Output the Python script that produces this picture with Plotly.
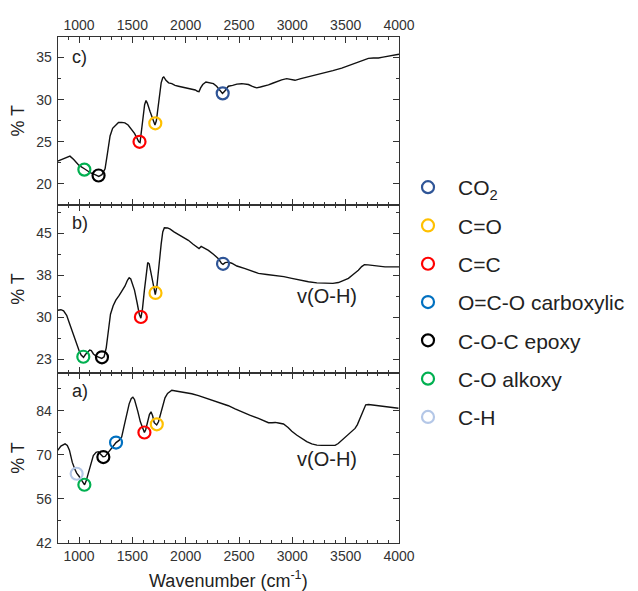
import plotly.graph_objects as go

# ---------------- data ----------------
wn_c = [800, 860, 915, 950, 1000, 1050, 1110, 1150, 1185, 1215, 1244, 1265, 1291, 1315, 1340, 1370, 1400, 1430,
        1460, 1494, 1520, 1541, 1560, 1572, 1585, 1600, 1615, 1628, 1640, 1666, 1690, 1712, 1725, 1750, 1770, 1785,
        1795, 1815, 1840, 1870, 1900, 1932, 1970, 2025, 2060, 2090, 2110, 2125, 2140, 2160, 2190, 2220, 2260, 2290,
        2320, 2345, 2365, 2400, 2440, 2480, 2526, 2560, 2588, 2620, 2666, 2700, 2740, 2776, 2815, 2854, 2900, 2947,
        2985, 3025, 3080, 3150, 3230, 3307, 3380, 3463, 3540, 3619, 3670, 3713, 3760, 3807, 3850, 3901, 3950, 4000]
t_c = [22.7, 23.0, 23.3, 22.9, 22.2, 21.8, 21.3, 21.1, 20.9, 21.1, 21.8, 23.5, 25.7, 26.6, 26.95, 27.3, 27.3, 27.25,
       27.0, 26.5, 26.0, 25.5, 25.0, 24.9, 26.2, 28.0, 29.4, 29.9, 29.6, 28.6, 27.8, 27.0, 27.5, 30.4, 32.0, 32.6,
       32.7, 32.3, 32.0, 31.9, 31.7, 31.6, 31.5, 31.35, 31.2, 31.15, 31.0, 30.95, 31.4, 31.8, 32.1, 32.0, 31.9, 31.6,
       31.1, 30.75, 31.0, 31.6, 31.7, 31.85, 31.9, 31.85, 31.8, 31.6, 31.4, 31.5, 31.6, 31.75, 31.95, 32.15, 32.35, 32.5,
       32.4, 32.3, 32.5, 32.7, 32.95, 33.2, 33.45, 33.75, 34.1, 34.5, 34.75, 34.9, 34.95, 34.95, 35.05, 35.2, 35.3, 35.4]

wn_b = [800, 830, 855, 884, 910, 931, 955, 978, 1000, 1020, 1042, 1060, 1080, 1100, 1115, 1135, 1160, 1190, 1213,
        1235, 1255, 1275, 1295, 1320, 1345, 1375, 1400, 1430, 1455, 1470, 1485, 1500, 1520, 1545, 1565, 1580, 1595,
        1613, 1630, 1644, 1658, 1675, 1695, 1715, 1730, 1750, 1770, 1785, 1800, 1830, 1855, 1890, 1932, 1970, 2025,
        2070, 2100, 2125, 2145, 2165, 2213, 2260, 2307, 2335, 2350, 2370, 2400, 2432, 2480, 2557, 2620, 2682, 2760,
        2839, 2920, 2995, 3070, 3151, 3230, 3307, 3380, 3432, 3480, 3526, 3570, 3619, 3650, 3676, 3710, 3744, 3800,
        3869, 3930, 4000]
t_b = [31.2, 31.3, 31.1, 30.3, 28.9, 27.7, 26.3, 25.0, 24.0, 23.2, 22.8, 23.3, 23.8, 24.1, 24.0, 23.4, 23.0, 22.8, 22.6,
       22.9, 24.5, 27.5, 30.5, 32.0, 33.0, 33.8, 34.5, 35.5, 36.6, 37.0, 36.8, 36.0, 34.8, 32.5, 30.5, 29.8, 31.5,
       34.8, 38.0, 39.7, 39.5, 38.0, 35.6, 34.0, 35.5, 39.6, 43.0, 45.2, 45.95, 45.9, 45.7, 45.2, 44.75, 44.3, 43.7,
       43.0, 42.6, 42.2, 42.6, 42.4, 41.9, 41.2, 40.4, 39.6, 39.4, 39.7, 39.8, 39.6, 39.1, 38.65, 38.2, 37.8, 37.6,
       37.45, 37.2, 36.9, 36.6, 36.3, 36.1, 36.0, 36.0, 36.15, 36.5, 36.9, 37.6, 38.35, 39.0, 39.35, 39.3, 39.2, 39.05,
       38.95, 38.95, 38.95]

wn_a = [800, 830, 869, 890, 910, 937, 960, 978, 1000, 1020, 1040, 1052, 1065, 1087, 1110, 1134, 1160, 1180, 1200,
        1225, 1245, 1270, 1291, 1320, 1347, 1375, 1400, 1425, 1447, 1470, 1490, 1505, 1520, 1535, 1551, 1575, 1600,
        1613, 1625, 1644, 1660, 1675, 1690, 1705, 1728, 1745, 1769, 1790, 1806, 1830, 1870, 1920, 1963, 2000, 2057,
        2120, 2182, 2260, 2338, 2400, 2463, 2526, 2600, 2682, 2740, 2776, 2810, 2839, 2870, 2917, 2960, 2995, 3040,
        3088, 3135, 3182, 3230, 3276, 3340, 3401, 3430, 3463, 3495, 3526, 3560, 3588, 3610, 3635, 3660, 3688, 3715,
        3744, 3800, 3869, 3930, 3995]
t_a = [71.4, 72.8, 73.5, 73.0, 71.5, 67.6, 65.5, 64.2, 63.2, 62.2, 60.8, 60.5, 61.5, 64.4, 67.5, 69.8, 70.8, 71.0, 70.3,
       69.4, 69.5, 70.6, 71.4, 72.6, 73.9, 74.6, 75.7, 79.5, 83.2, 86.2, 87.9, 88.3, 87.6, 85.9, 83.8, 80.5, 77.8,
       77.1, 78.0, 80.6, 82.8, 83.7, 82.4, 80.2, 79.5, 80.5, 83.6, 86.5, 88.1, 89.5, 90.5, 90.2, 90.0, 89.7, 89.4,
       88.8, 88.1, 87.3, 86.5, 85.6, 84.6, 83.6, 82.6, 81.6, 80.7, 80.2, 80.2, 80.3, 80.1, 79.8, 78.7, 77.5, 76.3,
       75.2, 74.2, 73.5, 73.1, 73.0, 72.9, 73.0, 73.6, 74.6, 75.8, 76.8, 77.7, 78.4, 79.6, 81.6, 84.0, 85.9, 86.0,
       85.9, 85.7, 85.4, 85.1, 84.8]

# band assignments (legend order)
band_names = ["CO<sub>2</sub>", "C=O", "C=C", "O=C-O carboxylic", "C-O-C epoxy", "C-O alkoxy", "C-H"]
band_colors = ["#2F5597", "#FFC000", "#FF0000", "#0070C0", "#000000", "#00B050", "#B4C7E7"]

# marked positions per panel
marks_c_band = [0, 1, 2, 4, 5]
marks_c_wn = [2347, 1715, 1567, 1183, 1050]
marks_c_t = [30.75, 27.2, 25.0, 21.0, 21.7]

marks_b_band = [0, 1, 2, 4, 5]
marks_b_wn = [2350, 1717, 1580, 1215, 1040]
marks_b_t = [39.5, 34.3, 30.0, 22.8, 22.9]

marks_a_band = [1, 2, 3, 4, 5, 6]
marks_a_wn = [1729, 1613, 1347, 1228, 1050, 978]
marks_a_t = [79.7, 77.1, 73.9, 69.3, 60.5, 64.0]

ticks_x = [1000, 1500, 2000, 2500, 3000, 3500, 4000]
ticks_c = [20, 25, 30, 35]
ticks_b = [22.5, 30, 37.5, 45]
ticks_b_text = ["23", "30", "38", "45"]
ticks_a = [42, 56, 70, 84]

# ---------------- figure ----------------
FONT = "Arial, Liberation Sans, sans-serif"
OFF = 8                      # page body margin
W, H = 638 - OFF, 591 - OFF
fig = go.Figure()

panels = [
    ("x3", "y3", wn_c, t_c, marks_c_band, marks_c_wn, marks_c_t),
    ("x2", "y2", wn_b, t_b, marks_b_band, marks_b_wn, marks_b_t),
    ("x", "y", wn_a, t_a, marks_a_band, marks_a_wn, marks_a_t),
]
for xa, ya, wx, ty, mb, mw, mt in panels:
    fig.add_trace(go.Scatter(x=wx, y=ty, xaxis=xa, yaxis=ya, mode="lines",
                             line=dict(color="#111111", width=1.4), showlegend=False, hoverinfo="skip"))
shown = set()
for xa, ya, wx, ty, mb, mw, mt in panels:
    for b, w, t in zip(mb, mw, mt):
        fig.add_trace(go.Scatter(
            x=[w], y=[t], xaxis=xa, yaxis=ya, mode="markers",
            marker=dict(symbol="circle-open", size=12, color=band_colors[b],
                        line=dict(width=2.2, color=band_colors[b])),
            name=band_names[b], legendgroup="g%d" % b, legendrank=b + 1,
            showlegend=(b not in shown)))
        shown.add(b)

def px(x):
    return (x - OFF) / W
def py(y):
    return 1 - (y - OFF) / H

xdom = [px(57.7), px(399.0)]
def ydom(top, bot):
    return [py(bot), py(top)]

common_x = dict(range=[800, 4000], domain=xdom, ticks="inside", ticklen=6, tickwidth=1,
                tickvals=ticks_x, showline=True, linecolor="#333", linewidth=1, mirror="ticks",
                showgrid=False, zeroline=False, automargin=False,
                minor=dict(dtick=100, tick0=0, ticks="inside", ticklen=3, tickcolor="#333"),
                tickfont=dict(family=FONT, size=14, color="#333"), tickcolor="#333")
common_y = dict(ticks="inside", ticklen=6, tickwidth=1, showline=True, linecolor="#333", linewidth=1,
                mirror="ticks", showgrid=False, zeroline=False, tickcolor="#333", automargin=False,
                tickfont=dict(family=FONT, size=14, color="#333"), ticklabelstandoff=2,
                title=dict(text="% T", font=dict(family=FONT, size=18, color="#222"), standoff=8))

fig.update_layout(
    width=W, height=H, margin=dict(l=0, r=0, t=0, b=0),
    paper_bgcolor="white", plot_bgcolor="white",
    xaxis=dict(common_x, anchor="y", side="bottom",
               title=dict(text="Wavenumber (cm<sup>-1</sup>)", font=dict(family=FONT, size=18, color="#222"),
                          standoff=13)),
    xaxis2=dict(common_x, anchor="y2", matches="x", showticklabels=False),
    xaxis3=dict(common_x, anchor="y3", matches="x", side="top"),
    yaxis=dict(common_y, anchor="x", domain=ydom(373, 543), range=[42, 96], tickvals=ticks_a,
               minor=dict(tickvals=[49, 63, 77, 91], ticks="inside", ticklen=3, tickcolor="#333")),
    yaxis2=dict(common_y, anchor="x2", domain=ydom(205, 373), range=[20, 50], tickvals=ticks_b,
                ticktext=ticks_b_text,
                minor=dict(tickvals=[26.25, 33.75, 41.25, 48.75], ticks="inside", ticklen=3, tickcolor="#333")),
    yaxis3=dict(common_y, anchor="x3", domain=ydom(36.5, 205), range=[17.5, 37.5], tickvals=ticks_c,
                minor=dict(tickvals=[22.5, 27.5, 32.5, 37.5], ticks="inside", ticklen=3, tickcolor="#333")),
    legend=dict(x=px(398), xanchor="left", y=py(167), yanchor="top",
                font=dict(family=FONT, size=21, color="#222"), itemwidth=50,
                tracegroupgap=8, bgcolor="rgba(0,0,0,0)", traceorder="grouped"),
    showlegend=True,
)

ann_font = dict(family=FONT, size=18, color="#222")
for txt, yc in [("c)", 57.5), ("b)", 223), ("a)", 391)]:
    fig.add_annotation(text=txt, xref="paper", yref="paper", x=px(70), y=py(yc),
                       xanchor="left", yanchor="middle", showarrow=False, font=ann_font)
for yc in [296, 459]:
    fig.add_annotation(text="v(O-H)", xref="paper", yref="paper", x=px(326.5), y=py(yc),
                       xanchor="center", yanchor="middle", showarrow=False,
                       font=dict(family=FONT, size=20, color="#222"))

fig.write_html("out.html")
